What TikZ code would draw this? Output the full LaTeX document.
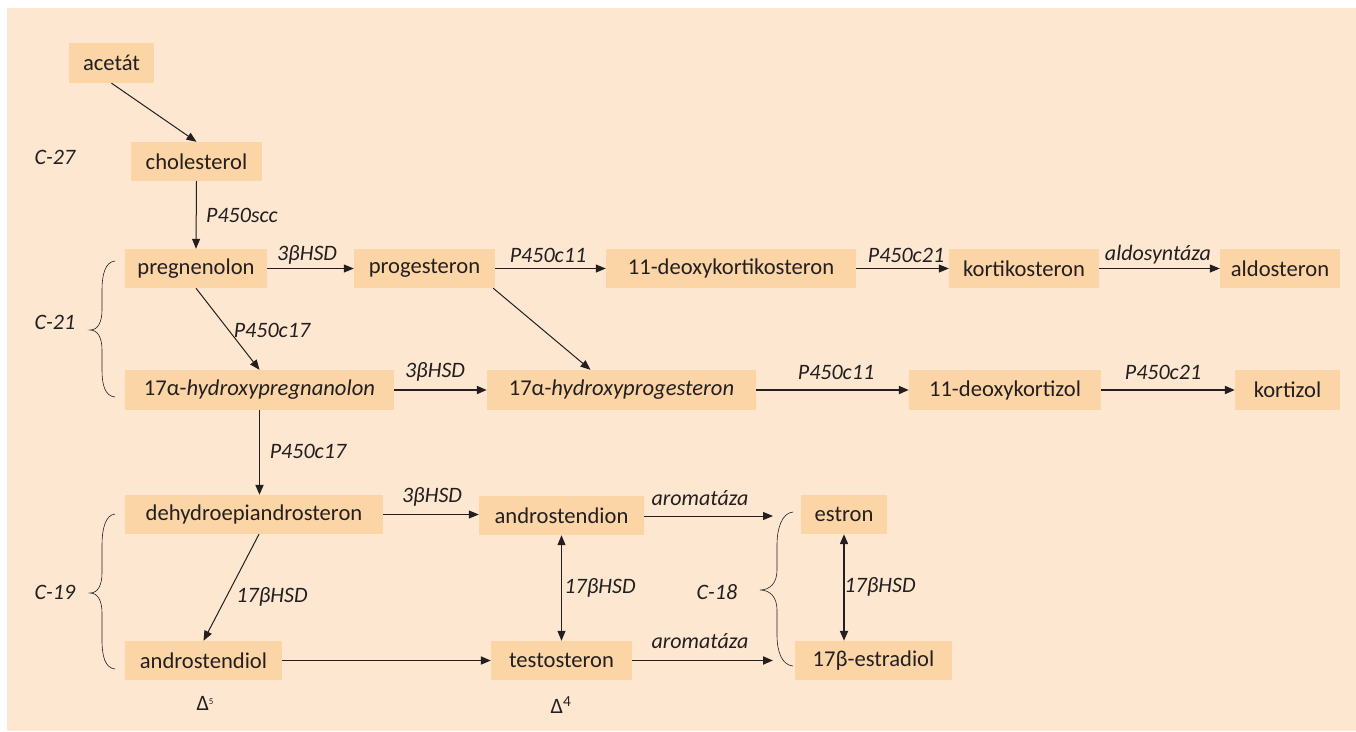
\documentclass[tikz,border=0pt]{standalone}
\usepackage{fontspec}
\setmainfont{Carlito}
\usetikzlibrary{arrows.meta,calc}
\definecolor{bgc}{RGB}{253,231,208}
\definecolor{boxc}{RGB}{252,213,166}
\definecolor{txt}{RGB}{35,31,32}
\tikzset{
  box/.style={fill=boxc, minimum height=39pt, inner sep=0pt, text=txt, font=\fontsize{22.6}{26}\selectfont},
  lab/.style={inner sep=0pt, text=txt, font=\fontsize{22}{26}\selectfont\itshape},
  plain/.style={inner sep=0pt, text=txt, font=\fontsize{22}{26}\selectfont},
  arr/.style={draw=txt, line width=1pt, -{Triangle[length=10pt,width=8pt]}},
  tarr/.style={draw=txt, line width=1.9pt, -{Triangle[length=10pt,width=8pt]}},
  darr/.style={draw=txt, line width=1pt, {Triangle[length=10pt,width=8pt]}-{Triangle[length=10pt,width=8pt]}},
  tdarr/.style={draw=txt, line width=1.9pt, {Triangle[length=10pt,width=8pt]}-{Triangle[length=10pt,width=8pt]}},
  brc/.style={draw=txt, line width=0.6pt}
}
\begin{document}
\begin{tikzpicture}[x=1pt,y=-1pt]
\useasboundingbox (0,0) rectangle (1356,731);
\fill[white] (0,0) rectangle (1356,731);
\fill[bgc] (7,8) rectangle (1356,731);

% boxes
\node[box, minimum width=85pt, minimum height=40pt] (acetat) at (111.5,63) {acetát};
\node[box, minimum width=131pt] (chol) at (196.5,161.5) {cholesterol};
\node[box, minimum width=142pt] (preg) at (196,268.5) {pregnenolon};
\node[box, minimum width=141pt] (prog) at (424.5,268.5) {progesteron};
\node[box, minimum width=250pt] (dks) at (731,268.5) {11-deoxykortikosteron};
\node[box, minimum width=150pt] (ks) at (1024,268.5) {kortikosteron};
\node[box, minimum width=120pt] (ald) at (1280,268.5) {aldosteron};
\node[box, minimum width=269pt, minimum height=40pt] (hpreg) at (259.5,390) {17α-\textit{hydroxypregnanolon}};
\node[box, minimum width=269pt, minimum height=40pt] (hprog) at (621.5,390) {17α-\textit{hydroxyprogesteron}};
\node[box, minimum width=192pt, minimum height=40pt] (dkz) at (1005,390) {11-deoxykortizol};
\node[box, minimum width=105pt, minimum height=40pt] (kz) at (1287.5,390) {kortizol};
\node[box, minimum width=258pt] (dhea) at (254,514.5) {dehydroepiandrosteron};
\node[box, minimum width=165pt] (andion) at (561.5,515.5) {androstendion};
\node[box, minimum width=86pt] (estron) at (844,514.5) {estron};
\node[box, minimum width=157pt] (diol) at (203.5,660.5) {androstendiol};
\node[box, minimum width=141pt] (testo) at (561.5,660.5) {testosteron};
\node[box, minimum width=157pt] (estradiol) at (873.5,660.5) {17β-estradiol};

% free ends
\coordinate (ar1) at (773,516);
\coordinate (ar2) at (773,660.5);

% arrows
\draw[arr] (acetat.south) -- (chol.north);
\draw[arr] (chol.south) -- (preg.north);
\draw[arr] (preg.east) -- (prog.west);
\draw[arr] (preg.south) -- (hpreg.north);
\draw[arr] (prog.east) -- (dks.west);
\draw[arr] (dks.east) -- (ks.west);
\draw[arr] (ks.east) -- (ald.west);
\draw[arr] ($(prog.south east)+(-2,0)$) -- ($(hprog.north)+(-31,0)$);
\draw[tarr] (hpreg.east) -- (hprog.west);
\draw[tarr] (hprog.east) -- (dkz.west);
\draw[tarr] (dkz.east) -- (kz.west);
\draw[tarr] (hpreg.south) -- (hpreg.south |- dhea.north);
\draw[arr] (dhea.east) -- (dhea.east -| andion.west);
\draw[arr] ($(dhea.south)+(5,0)$) -- (diol.north);
\draw[tarr] (diol.east) -- (testo.west);
\draw[darr] (andion.south) -- (testo.north);
\draw[arr] (andion.east |- ar1) -- (ar1);
\draw[tarr] (testo.east) -- (ar2);
\draw[tdarr] (estron.south) -- (estron.south |- estradiol.north);

% enzyme labels
\node[lab, anchor=west] (l1) at (206,215) {P450scc};
\node[lab] (l2) at (307,255) {3βHSD};
\node[lab] (l3) at (272,330) {P450c17};
\node[lab] (l4) at (548,255) {P450c11};
\node[lab] (l5) at (906,255) {P450c21};
\node[lab] (l6) at (1158,255) {aldosyntáza};
\node[lab] (l7) at (435,372) {3βHSD};
\node[lab] (l8) at (836,372) {P450c11};
\node[lab] (l9) at (1163,372) {P450c21};
\node[lab] (l10) at (308,451) {P450c17};
\node[lab] (l11) at (432,497) {3βHSD};
\node[lab] (l12) at (272,597) {17βHSD};
\node[lab] (l13) at (600,588) {17βHSD};
\node[lab] (l14) at (700,498) {aromatáza};
\node[lab] (l15) at (700,641) {aromatáza};
\node[lab] (l16) at (880,587) {17βHSD};

% group labels
\node[lab] (c27) at (55,157) {C-27};
\node[lab] (c21) at (55,322) {C-21};
\node[lab] (c19) at (55,592) {C-19};
\node[lab] (c18) at (717,592) {C-18};
\node[plain] (d5) at (205,703) {Δ\raisebox{0.55ex}{\fontsize{9}{9}\selectfont 5}};
\node[plain] (d4) at (561,705) {Δ\textsuperscript{4}};

% braces
\draw[brc] (115,261) .. controls (105,262) and (102,275) .. (102,290) -- (102,310)
  .. controls (102,322) and (98,330) .. (90,330)
  .. controls (98,330) and (102,338) .. (102,350) -- (102,370)
  .. controls (102,385) and (105,396) .. (115,397);
\draw[brc] (115,514) .. controls (105,515) and (102,530) .. (102,545) -- (102,573)
  .. controls (102,585) and (98,593) .. (90,593)
  .. controls (98,593) and (102,601) .. (102,613) -- (102,640)
  .. controls (102,656) and (105,668) .. (115,669);
\draw[brc] (793,512) .. controls (782,513) and (777,528) .. (777,545) -- (777,570)
  .. controls (777,583) and (770,590) .. (760,590)
  .. controls (770,590) and (777,597) .. (777,610) -- (777,635)
  .. controls (777,652) and (782,665) .. (793,666);
\end{tikzpicture}
\end{document}
